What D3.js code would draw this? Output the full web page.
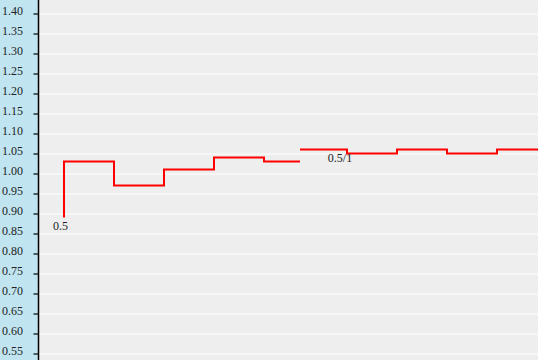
<!DOCTYPE html>
<html>
<head>
<meta charset="utf-8">
<script src="https://cdn.jsdelivr.net/npm/d3@7"></script>
<style>
  html, body { margin: 0; padding: 0; background: #eeeeee; }
  svg { display: block; font-family: "Liberation Serif", "Times New Roman", serif; }
</style>
</head>
<body>
<svg id="chart"></svg>
<script>
// y tick labels
var yTicks = [0.55, 0.60, 0.65, 0.70, 0.75, 0.80, 0.85, 0.90, 0.95, 1.00,
              1.05, 1.10, 1.15, 1.20, 1.25, 1.30, 1.35, 1.40];

// first step series (x in step units, y values)
var stepX1 = [0, 0, 1, 2, 3, 4, 4.72];
var stepY1 = [0.89, 1.03, 0.97, 1.01, 1.04, 1.03, 1.03];

// second step series
var stepX2 = [4.72, 5.66, 6.66, 7.66, 8.66, 9.6];
var stepY2 = [1.06, 1.05, 1.06, 1.05, 1.06, 1.06];

// point labels
var labelText = ["0.5", "0.5/1"];
var labelX = [-0.07, 5.52];
var labelY = [0.89, 1.06];

function plot_chart(tag_id) {
    var width = 538, height = 360;
    var axisX = 38.5;

    var svg = d3.select("#" + tag_id)
        .attr("width", width)
        .attr("height", height);

    var x = d3.scaleLinear().domain([0, 1]).range([64, 114]);
    var y = d3.scaleLinear().domain([0.55, 1.40]).range([353.5, 13.5]);

    // plot background
    svg.append("rect")
        .attr("x", 0).attr("y", 0)
        .attr("width", width).attr("height", height)
        .style("fill", "#eeeeee");

    // blue label panel on the left
    svg.append("rect")
        .attr("x", 0).attr("y", 0)
        .attr("width", axisX).attr("height", height)
        .style("fill", "#c0e5f1");

    // white grid lines
    svg.append("g")
        .attr("transform", "translate(" + axisX + ",0)")
        .call(d3.axisRight(y).tickValues(yTicks).tickSize(width - axisX).tickFormat(""))
        .call(function(g) { g.select(".domain").remove(); })
        .call(function(g) { g.selectAll(".tick line").style("stroke", "#ffffff").style("stroke-width", 1); });

    // y axis
    var yAxis = svg.append("g")
        .attr("transform", "translate(" + axisX + ",0)")
        .call(d3.axisLeft(y).tickValues(yTicks).tickSize(5).tickSizeOuter(0).tickFormat(d3.format(".2f")));
    yAxis.select(".domain").remove();
    yAxis.selectAll(".tick line").style("stroke", "#000").style("stroke-width", 1.2);
    yAxis.selectAll(".tick text")
        .attr("x", 2 - axisX)
        .attr("dy", "0.1em")
        .style("text-anchor", "start")
        .style("font-family", "'Liberation Serif', serif")
        .style("font-size", "12px")
        .style("fill", "#222");

    // axis line over the full height
    svg.append("line")
        .attr("x1", axisX).attr("x2", axisX)
        .attr("y1", 0).attr("y2", height)
        .style("stroke", "#000")
        .style("stroke-width", 1.5);

    var line = d3.line()
        .x(function(d) { return x(d[0]); })
        .y(function(d) { return y(d[1]); })
        .curve(d3.curveStepAfter);

    [[stepX1, stepY1], [stepX2, stepY2]].forEach(function(s) {
        svg.append("path")
            .datum(d3.zip(s[0], s[1]))
            .attr("d", line)
            .style("fill", "none")
            .style("stroke", "#ff0000")
            .style("stroke-width", 2);
    });

    // point labels
    svg.selectAll(".plabel")
        .data(d3.range(labelText.length))
        .enter()
        .append("text")
        .attr("class", "plabel")
        .attr("x", function(i) { return x(labelX[i]); })
        .attr("y", function(i) { return y(labelY[i]) + 12.5; })
        .style("text-anchor", "middle")
        .style("font-size", "12px")
        .style("fill", "#222")
        .text(function(i) { return labelText[i]; });
}

plot_chart("chart");
</script>
</body>
</html>
